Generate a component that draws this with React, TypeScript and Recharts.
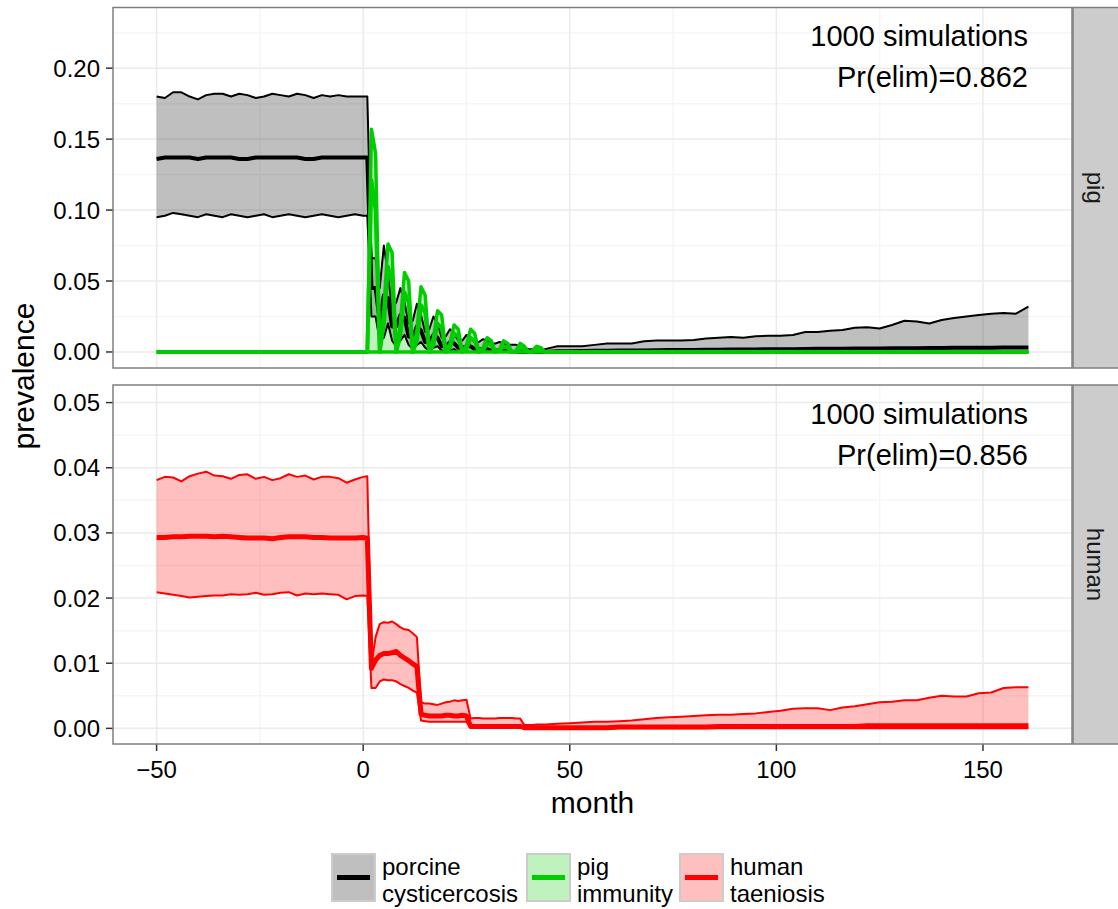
import React from "react";
import {
  Area,
  CartesianGrid,
  ComposedChart,
  Line,
  ReferenceLine,
  XAxis,
  YAxis,
} from "recharts";

// months sampled: every 2 before the intervention, monthly through the transition, every 3 after
const MONTHS = [
  -50, -48, -46, -44, -42, -40, -38, -36, -34, -32, -30, -28, -26, -24, -22, -20, -18, -16, -14, -12, -10, -8, -6, -4, -2, 0,
  1, 2, 3, 4, 5, 6, 7, 8, 9, 10, 11, 12, 13, 14, 15, 16, 17, 18, 19, 20, 21, 22, 23, 24, 25, 26, 27, 28, 29, 30, 31, 32, 33, 34, 35, 36, 37, 38, 39, 40, 41, 42, 43, 44,
  47, 50, 53, 56, 59, 62, 65, 68, 71, 74, 77, 80, 83, 86, 89, 92, 95, 98, 101, 104, 107, 110, 113, 116, 119, 122, 125, 128, 131, 134, 137, 140, 143, 146, 149, 152, 155, 158, 161,
];

// porcine cysticercosis (pig panel)
const PC_HI = [
  0.18, 0.179, 0.183, 0.183, 0.18, 0.178, 0.181, 0.182, 0.182, 0.18, 0.182, 0.181, 0.179, 0.18, 0.182, 0.181, 0.18, 0.182, 0.181, 0.179, 0.181, 0.18, 0.181, 0.18, 0.18, 0.18,
  0.18, 0.066, 0.066, 0.045, 0.075, 0.055, 0.03, 0.035, 0.045, 0.035, 0.02, 0.022, 0.034, 0.026, 0.014, 0.016, 0.025, 0.02, 0.01, 0.011, 0.016, 0.013, 0.008, 0.008, 0.012, 0.01, 0.007, 0.007, 0.009, 0.008, 0.006, 0.006, 0.007, 0.006, 0.005, 0.005, 0.005, 0.004, 0.003, 0.002, 0.002, 0.002, 0.001, 0.002,
  0.004, 0.004, 0.004, 0.005, 0.006, 0.006, 0.006, 0.0075, 0.008, 0.008, 0.008, 0.0085, 0.0095, 0.01, 0.0105, 0.01, 0.011, 0.0115, 0.0115, 0.012, 0.014, 0.014, 0.015, 0.0155, 0.017, 0.0175, 0.0165, 0.019, 0.022, 0.0215, 0.02, 0.0225, 0.024, 0.025, 0.026, 0.027, 0.0275, 0.027, 0.032,
];
const PC_MID = [
  0.136, 0.137, 0.137, 0.137, 0.137, 0.136, 0.137, 0.137, 0.137, 0.137, 0.136, 0.136, 0.137, 0.137, 0.137, 0.137, 0.137, 0.137, 0.136, 0.136, 0.137, 0.137, 0.137, 0.137, 0.137, 0.137,
  0.137, 0.045, 0.045, 0.022, 0.04, 0.038, 0.018, 0.018, 0.026, 0.024, 0.011, 0.01, 0.018, 0.015, 0.007, 0.007, 0.012, 0.01, 0.004, 0.004, 0.007, 0.006, 0.003, 0.003, 0.004, 0.004, 0.002, 0.002, 0.002, 0.002, 0.001, 0.001, 0.001, 0.001, 0.001, 0, 0, 0, 0, 0, 0, 0, 0, 0,
  0.0005, 0.0005, 0.0007, 0.0008, 0.0009, 0.001, 0.001, 0.0011, 0.0012, 0.0013, 0.0014, 0.0014, 0.0015, 0.0016, 0.0017, 0.0017, 0.0018, 0.0019, 0.002, 0.002, 0.0021, 0.0022, 0.0022, 0.0023, 0.0024, 0.0024, 0.0025, 0.0026, 0.0026, 0.0027, 0.0028, 0.0028, 0.0029, 0.003, 0.003, 0.003, 0.0031, 0.0031, 0.0031,
];
const PC_LO = [
  0.095, 0.096, 0.098, 0.097, 0.096, 0.095, 0.097, 0.096, 0.095, 0.097, 0.096, 0.095, 0.096, 0.097, 0.095, 0.096, 0.097, 0.096, 0.095, 0.096, 0.097, 0.096, 0.095, 0.096, 0.097, 0.096,
  0.096, 0.025, 0.025, 0.008, 0.01, 0.02, 0.008, 0.004, 0.008, 0.012, 0.005, 0.002, 0.005, 0.007, 0.003, 0.001, 0.003, 0.004, 0.001, 0, 0.001, 0.002, 0, 0, 0, 0, 0, 0, 0, 0, 0, 0, 0, 0, 0, 0, 0, 0, 0, 0, 0, 0, 0, 0,
  0, 0, 0, 0, 0, 0, 0, 0, 0, 0, 0, 0, 0, 0, 0, 0, 0, 0, 0, 0, 0, 0, 0, 0, 0, 0, 0, 0, 0, 0, 0, 0, 0, 0, 0, 0, 0, 0, 0,
];

// pig immunity (pig panel); lower bound is 0 throughout
const PI_HI = [
  0, 0, 0, 0, 0, 0, 0, 0, 0, 0, 0, 0, 0, 0, 0, 0, 0, 0, 0, 0, 0, 0, 0, 0, 0, 0,
  0, 0.157, 0.14, 0, 0.03, 0.076, 0.07, 0, 0.02, 0.056, 0.05, 0, 0.015, 0.046, 0.04, 0, 0.01, 0.029, 0.026, 0, 0.006, 0.019, 0.016, 0, 0.005, 0.016, 0.013, 0, 0.003, 0.01, 0.008, 0, 0.002, 0.0078, 0.006, 0, 0.001, 0.006, 0.004, 0, 0.001, 0.004, 0.003, 0,
  0, 0, 0, 0, 0, 0, 0, 0, 0, 0, 0, 0, 0, 0, 0, 0, 0, 0, 0, 0, 0, 0, 0, 0, 0, 0, 0, 0, 0, 0, 0, 0, 0, 0, 0, 0, 0, 0, 0,
];
const PI_MID = [
  0, 0, 0, 0, 0, 0, 0, 0, 0, 0, 0, 0, 0, 0, 0, 0, 0, 0, 0, 0, 0, 0, 0, 0, 0, 0,
  0, 0.121, 0.1, 0, 0.02, 0.06, 0.05, 0, 0.012, 0.042, 0.035, 0, 0.008, 0.033, 0.028, 0, 0.005, 0.02, 0.017, 0, 0.003, 0.013, 0.011, 0, 0.002, 0.01, 0.008, 0, 0.001, 0.006, 0.005, 0, 0.001, 0.004, 0.003, 0, 0, 0.003, 0.002, 0, 0, 0.002, 0.001, 0,
  0, 0, 0, 0, 0, 0, 0, 0, 0, 0, 0, 0, 0, 0, 0, 0, 0, 0, 0, 0, 0, 0, 0, 0, 0, 0, 0, 0, 0, 0, 0, 0, 0, 0, 0, 0, 0, 0, 0,
];

// human taeniosis (human panel)
const HT_HI = [
  0.0381, 0.0386, 0.0385, 0.0379, 0.0387, 0.0391, 0.0394, 0.0388, 0.0387, 0.0383, 0.0389, 0.039, 0.0383, 0.0386, 0.0381, 0.0384, 0.039, 0.0386, 0.0388, 0.0382, 0.0386, 0.0386, 0.0384, 0.0377, 0.0382, 0.0386,
  0.0387, 0.0098, 0.014, 0.016, 0.0163, 0.0162, 0.0164, 0.016, 0.0155, 0.0152, 0.0151, 0.0146, 0.014, 0.004, 0.0038, 0.0038, 0.0037, 0.0036, 0.0038, 0.004, 0.0041, 0.0043, 0.0042, 0.0043, 0.0044, 0.0015, 0.0016, 0.0016, 0.0015, 0.0015, 0.0015, 0.0015, 0.0016, 0.0016, 0.0016, 0.0016, 0.0015, 0.0015, 0.0005, 0.0005, 0.0005, 0.0006, 0.0006, 0.0006,
  0.0007, 0.0008, 0.0009, 0.001, 0.001, 0.0011, 0.0012, 0.0014, 0.0016, 0.0017, 0.0018, 0.0019, 0.002, 0.0021, 0.0021, 0.0022, 0.0023, 0.0025, 0.0027, 0.003, 0.0031, 0.0031, 0.0028, 0.0032, 0.0034, 0.0037, 0.004, 0.0041, 0.0043, 0.0043, 0.0047, 0.005, 0.0049, 0.0049, 0.0054, 0.0055, 0.0062, 0.0063, 0.0063,
];
const HT_MID = [
  0.0293, 0.0293, 0.0294, 0.0294, 0.0295, 0.0295, 0.0295, 0.0294, 0.0295, 0.0294, 0.0293, 0.0292, 0.0292, 0.0292, 0.0291, 0.0293, 0.0294, 0.0294, 0.0294, 0.0293, 0.0293, 0.0292, 0.0292, 0.0292, 0.0292, 0.0293,
  0.0292, 0.0092, 0.0105, 0.0112, 0.0115, 0.0115, 0.0116, 0.0118, 0.0112, 0.0108, 0.0104, 0.0099, 0.0095, 0.0022, 0.002, 0.0019, 0.0019, 0.0019, 0.0019, 0.002, 0.002, 0.0019, 0.0019, 0.002, 0.0019, 0.0003, 0.0003, 0.0003, 0.0003, 0.0003, 0.0003, 0.0003, 0.0003, 0.0003, 0.0003, 0.0003, 0.0003, 0.0003, 0.0001, 0.0001, 0.0001, 0.0001, 0.0001, 0.0001,
  0.0001, 0.0001, 0.0001, 0.0001, 0.0001, 0.0002, 0.0002, 0.0002, 0.0002, 0.0002, 0.0002, 0.0002, 0.0002, 0.0003, 0.0003, 0.0003, 0.0003, 0.0003, 0.0003, 0.0003, 0.0003, 0.0003, 0.0003, 0.0003, 0.0003, 0.0004, 0.0004, 0.0004, 0.0004, 0.0004, 0.0004, 0.0004, 0.0004, 0.0004, 0.0004, 0.0004, 0.0004, 0.0004, 0.0004,
];
const HT_LO = [
  0.0209, 0.0207, 0.0205, 0.0203, 0.0201, 0.0202, 0.0203, 0.0204, 0.0204, 0.0206, 0.0205, 0.0206, 0.0208, 0.0205, 0.0206, 0.0208, 0.0209, 0.0204, 0.0207, 0.0206, 0.0207, 0.0206, 0.0205, 0.0198, 0.0203, 0.0204,
  0.0203, 0.0062, 0.0062, 0.0072, 0.0075, 0.0074, 0.0074, 0.0072, 0.0068, 0.0065, 0.0062, 0.0058, 0.0055, 0.0012, 0.0011, 0.001, 0.001, 0.001, 0.001, 0.001, 0.001, 0.001, 0.001, 0.001, 0.001, 0.0001, 0.0001, 0.0001, 0.0001, 0.0001, 0.0001, 0.0001, 0.0001, 0.0001, 0.0001, 0.0001, 0.0001, 0.0001, 0, 0, 0, 0, 0, 0,
  0, 0, 0, 0, 0, 0, 0, 0, 0, 0, 0, 0, 0, 0, 0, 0, 0, 0, 0, 0, 0, 0, 0, 0, 0, 0, 0, 0, 0, 0, 0, 0, 0, 0, 0, 0, 0, 0, 0,
];

const X_TICKS = [-50, 0, 50, 100, 150];
const X_MINOR = [-25, 25, 75, 125];
const PIG_TICKS = [0, 0.05, 0.1, 0.15, 0.2];
const PIG_MINOR = [0.025, 0.075, 0.125, 0.175, 0.225];
const HUMAN_TICKS = [0, 0.01, 0.02, 0.03, 0.04, 0.05];
const HUMAN_MINOR = [0.005, 0.015, 0.025, 0.035, 0.045];

const PANELS = [
  { label: "pig", sims: "1000 simulations", elim: "Pr(elim)=0.862" },
  { label: "human", sims: "1000 simulations", elim: "Pr(elim)=0.856" },
];

const LEGEND_ITEMS = [
  { lines: ["porcine", "cysticercosis"], color: "#000000" },
  { lines: ["pig", "immunity"], color: "#00CD00" },
  { lines: ["human", "taeniosis"], color: "#FF0000" },
];

const FONT = '"Liberation Sans", Arial, Helvetica, sans-serif';
const X_DOMAIN: [number, number] = [-60.55, 171.55];
const GRID_MAJOR = "#EBEBEB";
const GRID_MINOR = "#F6F6F6";
const BORDER = "#7F7F7F";

const pigRows = MONTHS.map((month, i) => ({
  month,
  pcLo: PC_LO[i],
  pcMid: PC_MID[i],
  pcHi: PC_HI[i],
  pcBand: [PC_LO[i], PC_HI[i]],
  piMid: PI_MID[i],
  piHi: PI_HI[i],
}));

const humanRows = MONTHS.map((month, i) => ({
  month,
  htLo: HT_LO[i],
  htMid: HT_MID[i],
  htHi: HT_HI[i],
  htBand: [HT_LO[i], HT_HI[i]],
}));

const fmtY = (v: number) => v.toFixed(2);
const fmtX = (v: number) => (v < 0 ? `\u2212${Math.abs(v)}` : String(v));

const yTick = { fontSize: 24, fill: "#000", fontFamily: FONT };
const tickLine = { stroke: "#333", strokeWidth: 1.5 };

function PigPanel() {
  return (
    <ComposedChart
      width={1118}
      height={380}
      data={pigRows}
      margin={{ top: 7, right: 46, bottom: 12, left: 0 }}
    >
      <CartesianGrid horizontalValues={PIG_MINOR} verticalValues={X_MINOR} stroke={GRID_MINOR} strokeWidth={1.5} />
      <CartesianGrid horizontalValues={PIG_TICKS} verticalValues={X_TICKS} stroke={GRID_MAJOR} strokeWidth={1.5} />
      <XAxis dataKey="month" type="number" domain={X_DOMAIN} ticks={X_TICKS} hide allowDataOverflow />
      <YAxis
        type="number"
        domain={[-0.0113, 0.2431]}
        ticks={PIG_TICKS}
        tickFormatter={fmtY}
        width={113}
        tick={yTick}
        tickLine={tickLine}
        tickSize={7}
        tickMargin={6}
        axisLine={false}
        allowDataOverflow
      />
      <Area dataKey="pcBand" type="linear" stroke="none" fill="#000000" fillOpacity={0.25} isAnimationActive={false} activeDot={false} />
      <Area dataKey="piHi" type="linear" baseValue={0} stroke="none" fill="#00CD00" fillOpacity={0.25} isAnimationActive={false} activeDot={false} />
      <Line dataKey="pcHi" type="linear" stroke="#000" strokeWidth={2} strokeLinejoin="round" dot={false} activeDot={false} isAnimationActive={false} />
      <Line dataKey="pcLo" type="linear" stroke="#000" strokeWidth={2} strokeLinejoin="round" dot={false} activeDot={false} isAnimationActive={false} />
      <Line dataKey="pcMid" type="linear" stroke="#000" strokeWidth={4} strokeLinejoin="round" dot={false} activeDot={false} isAnimationActive={false} />
      <ReferenceLine segment={[{ x: -50, y: 0 }, { x: 161, y: 0 }]} stroke="#00CD00" strokeWidth={3.5} />
      <Line dataKey="piHi" type="linear" stroke="#00CD00" strokeWidth={3.5} strokeLinejoin="round" dot={false} activeDot={false} isAnimationActive={false} />
      <Line dataKey="piMid" type="linear" stroke="#00CD00" strokeWidth={4} strokeLinejoin="round" dot={false} activeDot={false} isAnimationActive={false} />
    </ComposedChart>
  );
}

function HumanPanel() {
  return (
    <ComposedChart
      width={1118}
      height={460}
      data={humanRows}
      margin={{ top: 7, right: 46, bottom: 0, left: 0 }}
    >
      <CartesianGrid horizontalValues={HUMAN_MINOR} verticalValues={X_MINOR} stroke={GRID_MINOR} strokeWidth={1.5} />
      <CartesianGrid horizontalValues={HUMAN_TICKS} verticalValues={X_TICKS} stroke={GRID_MAJOR} strokeWidth={1.5} />
      <XAxis
        dataKey="month"
        type="number"
        domain={X_DOMAIN}
        ticks={X_TICKS}
        tickFormatter={fmtX}
        height={94}
        tick={yTick}
        tickLine={tickLine}
        tickSize={7}
        tickMargin={10}
        axisLine={false}
        allowDataOverflow
      />
      <YAxis
        type="number"
        domain={[-0.0024, 0.0527]}
        ticks={HUMAN_TICKS}
        tickFormatter={fmtY}
        width={113}
        tick={yTick}
        tickLine={tickLine}
        tickSize={7}
        tickMargin={6}
        axisLine={false}
        allowDataOverflow
      />
      <Area dataKey="htBand" type="linear" stroke="none" fill="#FF0000" fillOpacity={0.25} isAnimationActive={false} activeDot={false} />
      <Line dataKey="htHi" type="linear" stroke="#FF0000" strokeWidth={2} strokeLinejoin="round" dot={false} activeDot={false} isAnimationActive={false} />
      <Line dataKey="htLo" type="linear" stroke="#FF0000" strokeWidth={2} strokeLinejoin="round" dot={false} activeDot={false} isAnimationActive={false} />
      <Line dataKey="htMid" type="linear" stroke="#FF0000" strokeWidth={5} strokeLinejoin="round" dot={false} activeDot={false} isAnimationActive={false} />
    </ComposedChart>
  );
}

// panel frames (y top, height) in page pixels
const FRAMES = [
  { y: 7.5, h: 360.5 },
  { y: 385, h: 359 },
];
const KEY_X = [332, 527, 680];

function Overlay() {
  return (
    <svg
      width={1118}
      height={909}
      style={{ position: "absolute", left: 0, top: 0, pointerEvents: "none" }}
      fontFamily={FONT}
    >
      {FRAMES.map((f, i) => (
        <g key={i}>
          <rect x={113} y={f.y} width={959} height={f.h} fill="none" stroke={BORDER} strokeWidth={1.5} />
          <rect x={1073} y={f.y} width={50} height={f.h} fill="#CCCCCC" stroke={BORDER} strokeWidth={1.5} />
          <text
            transform={`translate(1095, ${f.y + f.h / 2}) rotate(90)`}
            textAnchor="middle"
            dominantBaseline="central"
            fontSize={24}
            fill="#1A1A1A"
          >
            {PANELS[i].label}
          </text>
          <text x={1028} y={f.y + 38.5} textAnchor="end" fontSize={29} fill="#000">
            {PANELS[i].sims}
          </text>
          <text x={1028} y={f.y + 79.5} textAnchor="end" fontSize={29} fill="#000">
            {PANELS[i].elim}
          </text>
        </g>
      ))}
      <text transform="translate(34, 376) rotate(-90)" textAnchor="middle" fontSize={30} fill="#000">
        prevalence
      </text>
      <text x={592.5} y={813} textAnchor="middle" fontSize={30} fill="#000">
        month
      </text>
      {LEGEND_ITEMS.map((item, i) => (
        <g key={item.color}>
          <rect x={KEY_X[i]} y={854} width={43} height={47} fill="#fff" stroke="#CCCCCC" strokeWidth={2} />
          <rect x={KEY_X[i] + 1} y={855} width={41} height={45} fill={item.color} fillOpacity={0.25} />
          <line x1={KEY_X[i] + 5} x2={KEY_X[i] + 38} y1={877.5} y2={877.5} stroke={item.color} strokeWidth={5} />
          <text x={KEY_X[i] + 50} y={875} fontSize={24} fill="#000">
            {item.lines[0]}
          </text>
          <text x={KEY_X[i] + 50} y={901.5} fontSize={24} fill="#000">
            {item.lines[1]}
          </text>
        </g>
      ))}
    </svg>
  );
}

export default function App() {
  return (
    <div style={{ position: "absolute", left: 0, top: 0, width: 1118, height: 909, background: "#fff", fontFamily: FONT }}>
      <div style={{ position: "absolute", left: 0, top: 0 }}>
        <PigPanel />
      </div>
      <div style={{ position: "absolute", left: 0, top: 378 }}>
        <HumanPanel />
      </div>
      <Overlay />
    </div>
  );
}
